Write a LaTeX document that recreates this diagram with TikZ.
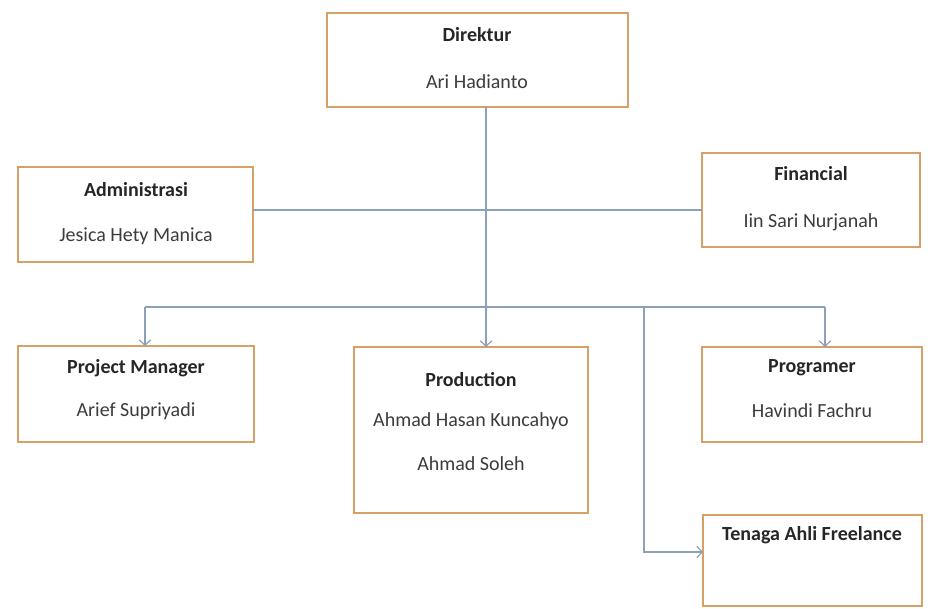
\documentclass[tikz,border=0pt]{standalone}
\usepackage{fontspec}
\setmainfont{Carlito}
\usetikzlibrary{arrows.meta}
\definecolor{boxc}{RGB}{214,160,102}
\definecolor{linec}{RGB}{140,160,185}
\definecolor{txtc}{RGB}{60,60,60}
\tikzset{
  orgbox/.style={draw=boxc,line width=2.2pt,fill=white,inner sep=0pt,outer sep=0pt},
  ttl/.style={font=\fontsize{15}{18}\selectfont\bfseries,text=black!85,inner sep=0pt},
  nm/.style={font=\fontsize{15}{18}\selectfont,text=txtc,inner sep=0pt},
  conn/.style={draw=linec,line width=0.9pt},
  arr/.style={conn,-{Straight Barb[length=4pt,width=8.5pt,line width=0.9pt]}}
}
\newcommand{\orgrect}[5]{\node[orgbox,minimum width={0.75pt*(#4-#2)},minimum height={0.75pt*(#5-#3)},anchor=north west] (#1) at (#2,#3) {};}
\begin{document}
\begin{tikzpicture}[x=0.75pt,y=-0.75pt]
\useasboundingbox (0,0) rectangle (928,608);
% boxes
\orgrect{dir}{327}{13}{628}{107}
\orgrect{adm}{18}{167}{253}{262}
\orgrect{fin}{702}{153}{920}{247}
\orgrect{pm}{18}{346}{254}{442}
\orgrect{prod}{354}{347}{588}{513}
\orgrect{prog}{702}{347}{922}{442}
\orgrect{free}{703}{515}{922}{606}
% texts
\node[ttl] (dirT) at (477,35) {Direktur};
\node[nm]  (dirN) at (477,82) {Ari Hadianto};
\node[ttl] (admT) at (136,190) {Administrasi};
\node[nm]  (admN) at (136,236) {Jesica Hety Manica};
\node[ttl] (finT) at (811,174) {Financial};
\node[nm]  (finN) at (811,222) {Iin Sari Nurjanah};
\node[ttl] (pmT) at (136,368) {Project Manager};
\node[nm]  (pmN) at (136,411) {Arief Supriyadi};
\node[ttl] (prodT) at (471,380) {Production};
\node[nm]  (prodN1) at (471,421) {Ahmad Hasan Kuncahyo};
\node[nm]  (prodN2) at (471,464) {Ahmad Soleh};
\node[ttl] (progT) at (812,368) {Programer};
\node[nm]  (progN) at (812,411) {Havindi Fachru};
\node[ttl] (freeT) at (812,535) {Tenaga Ahli Freelance};
% connectors
\coordinate (trunk) at (486,0);
\coordinate (mid) at (0,210);
\coordinate (bl) at (145,307);
\coordinate (br) at (825,307);
\coordinate (bf) at (644,307);
\coordinate (fc) at (644,552);
\draw[conn] (adm.east |- mid) -- (fin.west |- mid);
\draw[arr] (dir.south -| trunk) -- (prod.north -| trunk);
\draw[conn] (bl) -- (br);
\draw[arr] (bl) -- (bl |- pm.north);
\draw[arr] (br) -- (br |- prog.north);
\draw[arr] (bf) -- (fc) -- (free.west |- fc);
\end{tikzpicture}
\end{document}
